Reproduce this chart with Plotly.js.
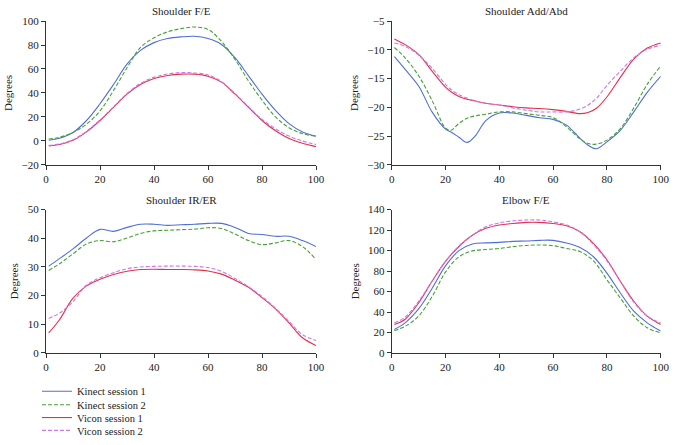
<!DOCTYPE html>
<html>
<head>
<meta charset="utf-8">
<script src="https://cdn.plot.ly/plotly-3.0.1.min.js"></script>
<style>html,body{margin:0;padding:0;background:#fff;}#chart{width:675px;height:445px;}</style>
</head>
<body>
<div id="chart"></div>
<script>
// ---- data ----
var seriesNames = ["Kinect session 1", "Kinect session 2", "Vicon session 1", "Vicon session 2"];
var panelTitles = ["Shoulder F/E", "Shoulder Add/Abd", "Shoulder IR/ER", "Elbow F/E"];
var xPct = [1, 5, 10, 15, 20, 25, 30, 35, 40, 45, 50, 55, 60, 65, 70, 75, 80, 85, 90, 95, 100];
var xAddAbd = [1, 5, 10, 15, 20, 22, 25, 28, 31, 35, 40, 45, 50, 55, 60, 65, 70, 73, 76, 80, 85, 90, 95, 100];

// Shoulder F/E
var shFE_k1 = [0.5, 2.2, 7, 17, 31, 47, 64, 75.5, 82, 85.4, 86.8, 87.3, 85.4, 80.5, 69.4, 54.3, 39, 25.4, 14.4, 7.5, 3.9];
var shFE_k2 = [1.5, 3, 7, 14, 25, 42, 61, 78, 86, 91, 93.7, 95, 93, 83, 68, 50, 34, 20, 11, 6, 4];
var shFE_v1 = [-4.3, -3, 0.5, 7.5, 17, 28, 39, 47, 52, 54.6, 55.7, 55.7, 54, 49, 39, 28, 17, 8.4, 2, -2, -4.8];
var shFE_v2 = [-3.8, -2.6, 1, 8, 17.5, 28.5, 39.5, 48, 53, 55.8, 57, 56.7, 55, 49.5, 39.5, 28.5, 18, 10, 4, -0.1, -3];

// Shoulder Add/Abd
var shAA_k1 = [-11.2, -13.4, -16.3, -20.8, -23.8, -24.3, -25.2, -26.1, -25.0, -22.3, -21.0, -21.0, -21.4, -21.8, -22.1, -23.1, -25.4, -26.6, -27.2, -26.0, -24.0, -20.8, -17.4, -14.6];
var shAA_k2 = [-9.6, -11.4, -14.5, -18.8, -23.6, -24.0, -22.8, -21.9, -21.5, -21.2, -20.8, -20.8, -21.1, -21.4, -21.8, -23.4, -25.5, -26.3, -26.4, -25.7, -23.7, -20.1, -16.0, -12.8];
var shAA_v1 = [-8.1, -9.1, -10.8, -13.7, -16.5, -17.3, -18.1, -18.6, -18.9, -19.3, -19.6, -19.9, -20.1, -20.2, -20.4, -20.7, -21.1, -20.9, -20.2, -18.2, -14.8, -11.6, -9.7, -8.8];
var shAA_v2 = [-8.8, -9.4, -10.9, -13.2, -16.0, -16.9, -17.8, -18.4, -18.9, -19.3, -19.6, -20.1, -20.5, -20.8, -20.8, -20.8, -20.3, -19.6, -18.5, -16.2, -13.7, -11.4, -9.9, -9.2];

// Shoulder IR/ER
var shIR_k1 = [30.3, 32.9, 36.3, 40.1, 43.1, 42.4, 43.8, 44.9, 44.9, 44.5, 44.7, 44.9, 45.2, 45.2, 43.8, 41.7, 41.3, 40.7, 40.7, 39.2, 37.1];
var shIR_k2 = [28.8, 31.1, 34.6, 38, 39.2, 38.8, 40.1, 41.7, 42.6, 42.8, 43, 43.2, 43.7, 43.4, 41.5, 39.2, 37.8, 38.4, 39.2, 37.1, 32.6];
var shIR_v1 = [7, 11.6, 19.1, 23.4, 25.7, 27.4, 28.5, 29.1, 29.2, 29.1, 29.1, 29, 28.6, 27.5, 25.4, 22.9, 19.3, 15.4, 10.5, 5.3, 2.6];
var shIR_v2 = [12, 13.9, 17.9, 23.7, 26.2, 28, 29.4, 30, 30.2, 30.3, 30.3, 30.2, 29.8, 28.5, 26, 23.1, 19.7, 15.6, 11, 6.4, 4.4];

// Elbow F/E
var elFE_k1 = [23, 29.4, 43, 63, 85, 100, 106.5, 107.5, 108, 109, 109.4, 110, 110, 107.4, 103, 94, 78, 58.6, 40.8, 29.4, 21.4];
var elFE_k2 = [22, 26, 36, 55, 79, 94, 99.7, 101, 102, 103.9, 105, 105.5, 104.8, 102, 99, 90, 71.5, 53.7, 36, 24.6, 19.7];
var elFE_v1 = [27.8, 33, 48.9, 70, 89.5, 104, 115, 121.7, 125, 126.5, 127.5, 127.5, 126.5, 124.3, 118.4, 107, 91, 70, 50.5, 36, 27.8];
var elFE_v2 = [29.4, 35, 50.5, 70, 89.5, 104.5, 115, 123.3, 127, 129, 129.8, 129.8, 128, 125, 118.4, 106, 90, 70, 49.5, 36, 29.4];

// ---- styles ----
var styles = [
  {color: "#4f6fd6", width: 1.1, dash: "solid"},
  {color: "#46a038", width: 1.1, dash: "4px,2px"},
  {color: "#e5304a", width: 1.1, dash: "solid"},
  {color: "#c878ea", width: 1.1, dash: "4px,2px"}
];

var panels = [
  {x: xPct, ys: [shFE_k1, shFE_k2, shFE_v1, shFE_v2], xa: "x", ya: "y"},
  {x: xAddAbd, ys: [shAA_k1, shAA_k2, shAA_v1, shAA_v2], xa: "x2", ya: "y2"},
  {x: xPct, ys: [shIR_k1, shIR_k2, shIR_v1, shIR_v2], xa: "x3", ya: "y3"},
  {x: xPct, ys: [elFE_k1, elFE_k2, elFE_v1, elFE_v2], xa: "x4", ya: "y4"}
];

var legendIds = ["legend", "legend2", "legend3", "legend4"];
var traces = [];
panels.forEach(function (p, pi) {
  p.ys.forEach(function (yv, si) {
    traces.push({
      type: "scatter", mode: "lines",
      x: p.x, y: yv,
      xaxis: p.xa, yaxis: p.ya,
      name: seriesNames[si],
      legend: legendIds[si],
      legendgroup: seriesNames[si],
      showlegend: pi === 0,
      line: {color: styles[si].color, width: styles[si].width, dash: styles[si].dash, shape: "spline", smoothing: 1}
    });
  });
});

var W = 675, H = 445;
var FONT = "Liberation Serif, Times New Roman, serif";
function xd(a, b) { return [a / W, b / W]; }
function yd(top, bot) { return [1 - bot / H, 1 - top / H]; }

function xaxis(dom, anchor) {
  return {
    domain: dom, anchor: anchor, range: [0, 100], tickvals: [0, 20, 40, 60, 80, 100],
    showline: true, linecolor: "#333", linewidth: 1, ticks: "outside", ticklen: 4, tickcolor: "#333",
    showgrid: false, zeroline: false, automargin: false,
    tickfont: {family: FONT, size: 11, color: "#222"}
  };
}
function yaxis(dom, anchor, rng, dt) {
  return {
    domain: dom, anchor: anchor, range: rng, dtick: dt, tick0: rng[0],
    showline: true, linecolor: "#333", linewidth: 1, ticks: "outside", ticklen: 4, tickcolor: "#333",
    showgrid: false, zeroline: false, automargin: false,
    tickfont: {family: FONT, size: 11, color: "#222"},
    title: {text: "Degrees", font: {family: FONT, size: 11, color: "#222"}, standoff: 6}
  };
}

var topRow = yd(21.3, 166.7), botRow = yd(212, 357);
var leftCol = xd(46, 316), rightCol = xd(391.7, 660.7);

function legendAt(ypx) {
  return {
    x: 37 / W, xanchor: "left", y: 1 - ypx / H, yanchor: "middle",
    bgcolor: "rgba(0,0,0,0)", borderwidth: 0, itemwidth: 30,
    font: {family: FONT, size: 10.5, color: "#222"}, tracegroupgap: 0
  };
}

var annotations = [
  {text: panelTitles[0], x: (46 + 316) / 2 / W, y: 1 - 11 / H},
  {text: panelTitles[1], x: (391.7 + 660.7) / 2 / W, y: 1 - 11 / H},
  {text: panelTitles[2], x: (46 + 316) / 2 / W, y: 1 - 202 / H},
  {text: panelTitles[3], x: (391.7 + 660.7) / 2 / W, y: 1 - 202 / H}
].map(function (a) {
  return {text: a.text, x: a.x, y: a.y, xref: "paper", yref: "paper", xanchor: "center", yanchor: "middle",
    showarrow: false, font: {family: FONT, size: 11, color: "#222"}};
});

var layout = {
  width: W, height: H,
  margin: {l: 0, r: 0, t: 0, b: 0},
  paper_bgcolor: "#fff", plot_bgcolor: "#fff",
  font: {family: FONT, size: 11, color: "#222"},
  xaxis: xaxis(leftCol, "y"), yaxis: yaxis(topRow, "x", [-20, 100], 20),
  xaxis2: xaxis(rightCol, "y2"), yaxis2: yaxis(topRow, "x2", [-30, -5], 5),
  xaxis3: xaxis(leftCol, "y3"), yaxis3: yaxis(botRow, "x3", [0, 50], 10),
  xaxis4: xaxis(rightCol, "y4"), yaxis4: yaxis(botRow, "x4", [0, 140], 20),
  legend: legendAt(395.7), legend2: legendAt(409.3), legend3: legendAt(422.3), legend4: legendAt(435.3),
  annotations: annotations,
  showlegend: true
};

Plotly.newPlot("chart", traces, layout, {staticPlot: true, displayModeBar: false});
</script>
</body>
</html>
